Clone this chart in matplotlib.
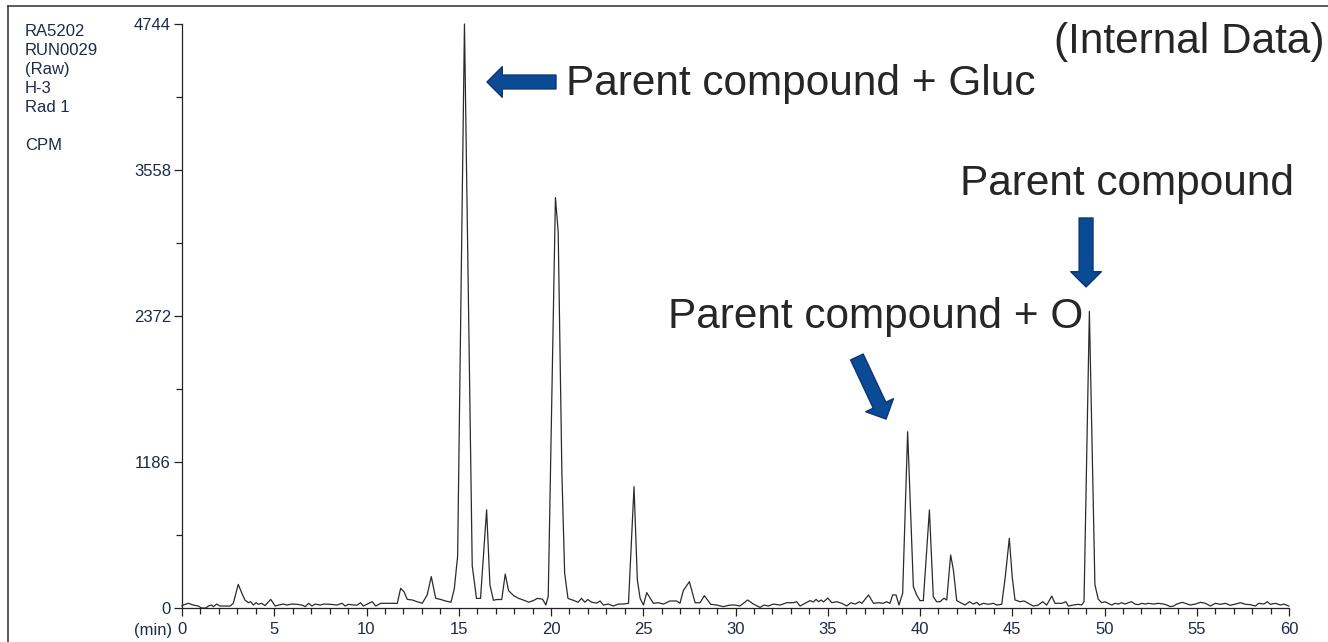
import matplotlib
matplotlib.use("Agg")
import matplotlib.pyplot as plt
from matplotlib.patches import FancyArrowPatch
from matplotlib.lines import Line2D
from matplotlib.ticker import MultipleLocator

plt.rcParams['font.family'] = ['Liberation Sans', 'DejaVu Sans']

# radio trace: retention time (min) and counts per minute
minutes = [
    0.0, 0.07, 0.34, 0.61, 0.88, 1.06, 1.3, 1.43, 1.61, 1.7, 1.88, 2.06, 2.6, 2.78,
    3.05, 3.23, 3.41, 3.6, 3.72, 3.87, 4.01, 4.14, 4.32, 4.5, 4.81, 5.05, 5.23, 5.5,
    5.68, 5.95, 6.23, 6.5, 6.68, 6.86, 7.04, 7.22, 7.5, 7.68, 8.04, 8.4, 8.67, 8.85,
    9.03, 9.3, 9.5, 9.68, 9.82, 10.04, 10.31, 10.5, 10.77, 10.95, 11.67, 11.85, 12.03,
    12.21, 12.48, 12.75, 13.02, 13.29, 13.51, 13.75, 14.03, 14.3, 14.58, 14.76, 14.94,
    15.31, 15.73, 15.96, 16.18, 16.51, 16.69, 16.88, 17.06, 17.33, 17.52, 17.7, 17.98,
    18.25, 18.53, 18.8, 19.08, 19.26, 19.54, 19.72, 19.85, 20.24, 20.39, 20.59, 20.74,
    20.92, 21.2, 21.47, 21.65, 21.84, 21.99, 22.2, 22.48, 22.66, 22.84, 23.11, 23.38,
    23.65, 23.92, 24.2, 24.5, 24.68, 24.83, 25.01, 25.19, 25.55, 25.82, 26.09, 26.45,
    26.81, 26.99, 27.17, 27.5, 27.81, 28.08, 28.31, 28.66, 28.98, 29.34, 29.7, 29.97,
    30.24, 30.66, 30.97, 31.33, 31.55, 31.78, 32.05, 32.42, 32.78, 33.14, 33.32, 33.5,
    33.77, 34.04, 34.22, 34.37, 34.5, 34.64, 34.77, 35.0, 35.22, 35.49, 35.76, 36.03,
    36.25, 36.49, 36.72, 36.85, 37.21, 37.48, 37.75, 38.01, 38.19, 38.37, 38.52, 38.7,
    38.86, 39.06, 39.33, 39.64, 39.82, 40.0, 40.18, 40.51, 40.72, 40.9, 41.09, 41.3,
    41.45, 41.66, 41.81, 41.99, 42.26, 42.44, 42.68, 42.9, 43.08, 43.22, 43.44, 43.71,
    43.98, 44.16, 44.43, 44.62, 44.84, 45.0, 45.15, 45.42, 45.64, 45.87, 46.14, 46.41,
    46.65, 46.87, 47.14, 47.32, 47.68, 47.91, 48.04, 48.31, 48.58, 48.76, 48.89, 49.18,
    49.48, 49.66, 49.85, 50.02, 50.2, 50.39, 50.57, 50.75, 50.93, 51.11, 51.29, 51.47,
    51.65, 51.84, 52.02, 52.2, 52.38, 52.65, 52.93, 53.2, 53.38, 53.56, 53.74, 53.92,
    54.2, 54.38, 54.65, 54.92, 55.2, 55.47, 55.74, 56.01, 56.28, 56.55, 56.82, 57.1,
    57.37, 57.64, 57.91, 58.18, 58.36, 58.64, 58.82, 58.99, 59.27, 59.54, 59.72, 59.99,
]
cpm = [
    20, 24, 38, 24, 16, 0, 0, 16, 24, 11, 32, 16, 16, 38,
    192, 125, 65, 43, 51, 24, 43, 30, 38, 19, 70, 16, 24, 32,
    24, 32, 30, 24, 11, 38, 16, 32, 24, 32, 30, 24, 38, 16,
    30, 24, 24, 43, 16, 32, 51, 16, 38, 38, 38, 160, 133,
    70, 65, 51, 38, 106, 255, 79, 69, 56, 47, 157, 423,
    4744, 344, 78, 78, 798, 188, 63, 69, 69, 276, 141, 100,
    78, 63, 47, 63, 78, 72, 25, 94, 3334, 3053, 1096, 282,
    78, 63, 47, 78, 47, 69, 47, 40, 57, 24, 32, 16,
    32, 32, 38, 986, 227, 79, 24, 125, 38, 43, 32, 57,
    57, 38, 141, 214, 43, 43, 100, 30, 24, 11, 24, 24,
    16, 65, 32, 5, 24, 16, 32, 24, 43, 43, 51, 16,
    38, 60, 49, 70, 51, 65, 49, 81, 43, 51, 38, 16,
    43, 32, 51, 38, 106, 38, 43, 38, 51, 38, 106, 106,
    24, 119, 1432, 173, 106, 60, 60, 796, 92, 51, 51, 79,
    65, 431, 309, 60, 38, 24, 51, 32, 46, 24, 38, 30,
    38, 24, 30, 250, 566, 250, 65, 51, 57, 38, 16, 24,
    51, 24, 97, 38, 38, 51, 16, 24, 30, 24, 51, 2410,
    190, 72, 43, 51, 38, 24, 38, 32, 43, 32, 43, 51,
    32, 27, 38, 32, 38, 32, 38, 32, 24, 11, 16, 32,
    46, 38, 24, 32, 46, 38, 16, 38, 30, 38, 22, 32,
    43, 30, 27, 16, 38, 32, 51, 30, 38, 24, 32, 16,
]

y_ticks = [0, 1186, 2372, 3558, 4744]
x_ticks = [0, 5, 10, 15, 20, 25, 30, 35, 40, 45, 50, 55, 60]
run_info = ['RA5202', 'RUN0029', '(Raw)', 'H-3', 'Rad 1', '', 'CPM']

W, H = 1328, 642
fig = plt.figure(figsize=(W / 100, H / 100), dpi=100)
ax = fig.add_axes([182 / W, 1 - 608 / H, (1289 - 182) / W, (608 - 24) / H])

label_col = '#1f2a48'
note_col = '#262626'
arrow_fill = '#0b4b96'
arrow_edge = '#0a3570'

ax.plot(minutes, cpm, color='#2b2b2b', lw=0.9, clip_on=False)

ax.set_xlim(0, 60)
ax.set_ylim(0, 4744)
ax.set_xticks(x_ticks)
ax.set_yticks(y_ticks)
ax.xaxis.set_minor_locator(MultipleLocator(1))
ax.yaxis.set_minor_locator(MultipleLocator(593))
ax.tick_params(axis='both', which='major', length=6, width=0.9, color='#222222',
               labelsize=12, labelcolor=label_col)
ax.tick_params(axis='both', which='minor', length=4, width=0.9, color='#222222')
ax.tick_params(axis='x', pad=4)
ax.tick_params(axis='y', pad=2)
for s in ['top', 'right']:
    ax.spines[s].set_visible(False)
for s in ['left', 'bottom']:
    ax.spines[s].set_linewidth(0.9)
    ax.spines[s].set_color('#222222')

fig.text(172 / W, 1 - 631 / H, '(min)', ha='right', va='center', fontsize=12,
         color=label_col)

# run header in the upper-left corner
for i, line in enumerate(run_info):
    fig.text(25 / W, 1 - (36 + 19 * i) / H, line, ha='left', va='baseline',
             fontsize=12, color=label_col)

# outer frame (top and left edges)
fig.add_artist(Line2D([8 / W, 1], [1 - 6 / H, 1 - 6 / H], transform=fig.transFigure,
                      color='#404040', lw=1.2))
fig.add_artist(Line2D([8 / W, 8 / W], [0, 1 - 6 / H], transform=fig.transFigure,
                      color='#404040', lw=1.2))

# peak annotations
fig.text(1325 / W, 1 - 53 / H, '(Internal Data)', ha='right', va='baseline',
         fontsize=30.5, color=note_col)
fig.text(566 / W, 1 - 95 / H, 'Parent compound + Gluc', ha='left', va='baseline',
         fontsize=30.5, color=note_col)
fig.text(960 / W, 1 - 195 / H, 'Parent compound', ha='left', va='baseline',
         fontsize=30.5, color=note_col)
fig.text(668 / W, 1 - 328 / H, 'Parent compound + O', ha='left', va='baseline',
         fontsize=30.5, color=note_col)

arrow_style = 'simple,head_length=11,head_width=22,tail_width=10'
arrows = [
    ((20.27, 4273), (16.53, 4273)),
    ((49.0, 3168), (49.0, 2608)),
    ((36.58, 2039), (38.16, 1535)),
]
for tail, tip in arrows:
    ax.add_patch(FancyArrowPatch(tail, tip, arrowstyle=arrow_style, mutation_scale=1,
                                 shrinkA=0, shrinkB=0, fc=arrow_fill, ec=arrow_edge,
                                 lw=1, clip_on=False, zorder=5))

fig.savefig('out.png', dpi=100)
